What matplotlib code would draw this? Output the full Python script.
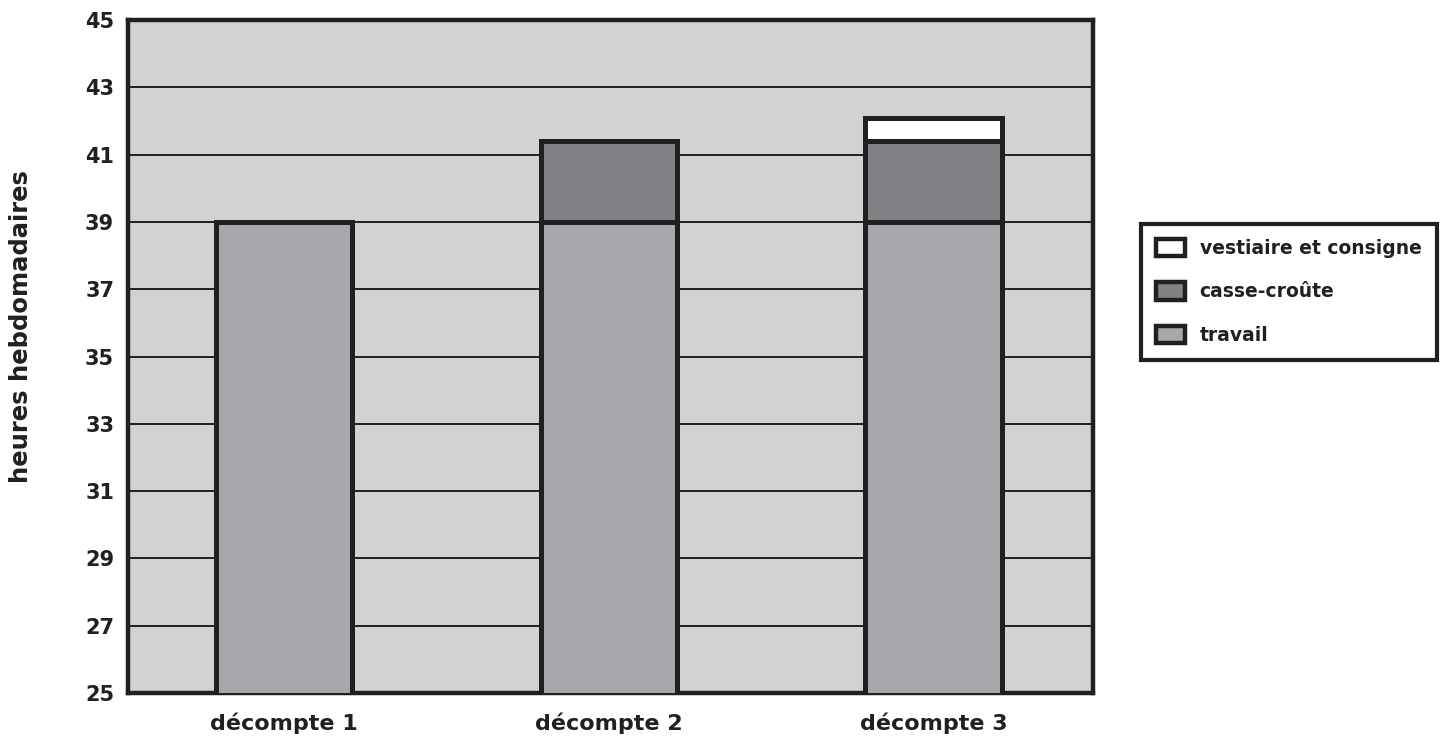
import matplotlib.pyplot as plt
from matplotlib.patches import Patch

# Weekly hours per counting method
categories = ['décompte 1', 'décompte 2', 'décompte 3']
travail = [39, 39, 39]
casse_croute = [0, 2.4, 2.4]
vestiaire = [0, 0, 0.7]
yticks = [25, 27, 29, 31, 33, 35, 37, 39, 41, 43, 45]

INK = '#231f20'
BG = '#d1d2d4'
C_TRAVAIL = '#a7a8ab'
C_CASSE = '#808285'
C_VEST = '#ffffff'

plt.rcParams['font.family'] = ['DejaVu Sans']
plt.rcParams['font.weight'] = 'bold'

fig = plt.figure(figsize=(14.42, 7.46), dpi=100)
ax = fig.add_axes([0.0888, 0.071, 0.669, 0.902])
ax.set_facecolor(BG)

x = list(range(len(categories)))
width = 0.42
bar_kw = dict(width=width, edgecolor=INK, linewidth=3.6, zorder=3)

ax.bar(x, travail, bottom=0, color=C_TRAVAIL, **bar_kw)
bottoms = list(travail)
mask = [v > 0 for v in casse_croute]
ax.bar([xi for xi, m in zip(x, mask) if m],
       [v for v, m in zip(casse_croute, mask) if m],
       bottom=[b for b, m in zip(bottoms, mask) if m],
       color=C_CASSE, **bar_kw)
bottoms = [b + c for b, c in zip(bottoms, casse_croute)]
mask = [v > 0 for v in vestiaire]
ax.bar([xi for xi, m in zip(x, mask) if m],
       [v for v, m in zip(vestiaire, mask) if m],
       bottom=[b for b, m in zip(bottoms, mask) if m],
       color=C_VEST, **bar_kw)

ax.set_ylim(25, 45)
ax.set_xlim(-0.48, 2.49)
ax.set_yticks(yticks)
ax.set_yticklabels([str(t) for t in yticks], fontsize=15, fontweight='bold', color=INK)
ax.set_xticks(x)
ax.set_xticklabels(categories, fontsize=16, fontweight='bold', color=INK)
ax.tick_params(axis='both', length=0)
ax.tick_params(axis='y', pad=10)
ax.tick_params(axis='x', pad=14)

ax.yaxis.grid(True, color=INK, linewidth=1.4, zorder=1)
ax.set_axisbelow(True)
for s in ax.spines.values():
    s.set_linewidth(3.2)
    s.set_color(INK)

ax.set_ylabel('heures hebdomadaires', fontsize=17.5, fontweight='bold', color=INK)
ax.yaxis.set_label_coords(-0.099, 0.544)

handles = [
    Patch(facecolor=C_VEST, edgecolor=INK, linewidth=3.2, label='vestiaire et consigne'),
    Patch(facecolor=C_CASSE, edgecolor=INK, linewidth=3.2, label='casse-croûte'),
    Patch(facecolor=C_TRAVAIL, edgecolor=INK, linewidth=3.2, label='travail'),
]
leg = fig.legend(handles=handles, loc='upper left', bbox_to_anchor=(0.791, 0.700),
                 prop={'size': 13.5, 'weight': 'bold'}, fancybox=False, framealpha=1,
                 edgecolor=INK, handlelength=1.55, handleheight=1.05,
                 labelspacing=1.3, borderpad=0.8, handletextpad=0.8,
                 borderaxespad=0)
leg.get_frame().set_linewidth(3)
for t in leg.get_texts():
    t.set_color(INK)

fig.savefig('out.png', dpi=100, facecolor='white')
